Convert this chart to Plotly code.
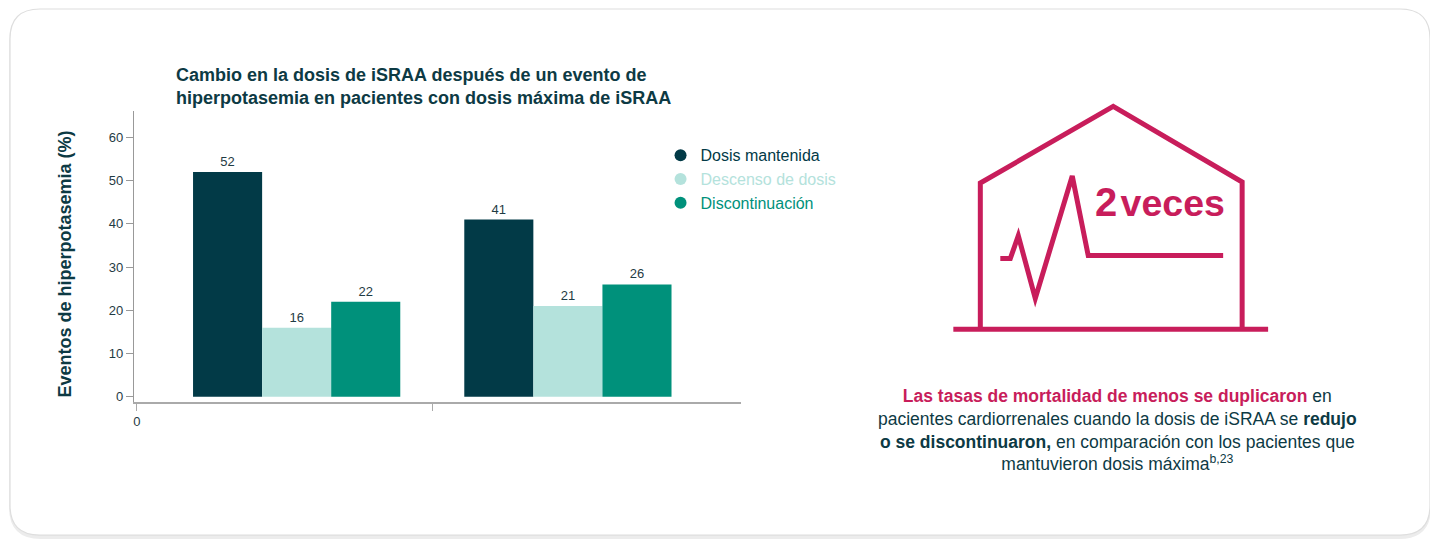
import plotly.graph_objects as go

# datos del grafico
grupos = [0, 1]
series = ["Dosis mantenida", "Descenso de dosis", "Discontinuación"]
dosis_mantenida = [52, 41]
descenso_dosis = [16, 21]
discontinuacion = [22, 26]
y_ticks = [0, 10, 20, 30, 40, 50, 60]

colores = ["#023a47", "#b4e2dc", "#00917b"]
crimson = "#c81d5b"
texto = "#0d3a44"
fuente = "Liberation Sans, Arial, sans-serif"

# la pagina deja 8px de margen, asi que el papel empieza en (8, 8)
W, H = 1430, 541


def px(x):
    return (x - 8) / W


def py(y):
    return 1 - (y - 8) / H


def ruta(puntos):
    return "M " + " L ".join(f"{px(x)},{py(y)}" for x, y in puntos)


def rect_redondo(x0, y0, x1, y1, r):
    return (f"M {px(x0 + r)},{py(y0)} L {px(x1 - r)},{py(y0)} "
            f"Q {px(x1)},{py(y0)} {px(x1)},{py(y0 + r)} L {px(x1)},{py(y1 - r)} "
            f"Q {px(x1)},{py(y1)} {px(x1 - r)},{py(y1)} L {px(x0 + r)},{py(y1)} "
            f"Q {px(x0)},{py(y1)} {px(x0)},{py(y1 - r)} L {px(x0)},{py(y0 + r)} "
            f"Q {px(x0)},{py(y0)} {px(x0 + r)},{py(y0)} Z")


fig = go.Figure()

valores = [dosis_mantenida, descenso_dosis, discontinuacion]
for nombre, vals, color in zip(series, valores, colores):
    fig.add_trace(go.Bar(
        x=grupos, y=vals, name=nombre, marker_color=color,
        marker_line_width=0, text=vals, textposition="outside",
        textfont=dict(size=13, color="#1f3b44"), cliponaxis=False,
        showlegend=False, hoverinfo="skip"
    ))
    # marcador circular para la leyenda
    fig.add_trace(go.Scatter(
        x=[None], y=[None], mode="markers", marker=dict(size=13, color=color),
        name=f"<span style='color:{color}'>{nombre}</span>"
    ))

casa = [(980, 331), (980, 184), (1113, 107), (1242, 183), (1242, 331)]
suelo = [(953, 331), (1268, 331)]
pulso = [(1000, 260), (1010, 260), (1018, 237), (1035, 300), (1072, 177),
         (1088, 257), (1223, 257)]

shapes = [
    # sombra y tarjeta
    dict(type="path", xref="paper", yref="paper", path=rect_redondo(10, 12, 1429, 540, 30),
         line=dict(color="#ececec", width=4), fillcolor="#f4f4f4", layer="below"),
    dict(type="path", xref="paper", yref="paper", path=rect_redondo(9, 9, 1430, 538, 30),
         line=dict(color="#dedede", width=1.2), fillcolor="white", layer="below"),
]
for pts in (casa, suelo, pulso):
    shapes.append(dict(type="path", xref="paper", yref="paper", path=ruta(pts),
                       line=dict(color=crimson, width=5)))

parrafo = (f"<b><span style='color:{crimson}'>Las tasas de mortalidad de menos se duplicaron</span></b> en<br>"
           "pacientes cardiorrenales cuando la dosis de iSRAA se <b>redujo</b><br>"
           "<b>o se discontinuaron,</b> en comparación con los pacientes que<br>"
           "mantuvieron dosis máxima<sup>b,23</sup>")

annotations = [
    dict(text="<b>Eventos de hiperpotasemia (%)</b>", textangle=-90,
         x=px(64), y=py(265), xref="paper", yref="paper",
         xanchor="center", yanchor="middle", showarrow=False,
         font=dict(size=18, color=texto, family=fuente)),
    dict(text="<b><span style='font-size:40px'>2</span>"
              "<span style='font-size:12px'> </span>veces</b>",
         x=px(1093), y=py(203),
         xref="paper", yref="paper", xanchor="left", yanchor="middle", showarrow=False,
         font=dict(size=37.5, color=crimson, family=fuente)),
    dict(text=parrafo, x=px(1117), y=py(386), xref="paper", yref="paper",
         xanchor="center", yanchor="top", align="center", showarrow=False,
         font=dict(size=17.5, color=texto, family=fuente)),
]

fig.update_layout(
    width=W, height=H,
    margin=dict(l=0, r=0, t=0, b=0),
    paper_bgcolor="white", plot_bgcolor="rgba(0,0,0,0)",
    font=dict(family=fuente, color=texto),
    title=dict(text="<b>Cambio en la dosis de iSRAA después de un evento de<br>"
                    "hiperpotasemia en pacientes con dosis máxima de iSRAA</b>",
               x=px(176), xanchor="left", y=py(81), yanchor="top",
               font=dict(size=18, color=texto, family=fuente)),
    barmode="group", bargap=0.236, bargroupgap=0,
    xaxis=dict(domain=[px(133), px(741)], range=[-0.6, 1.64],
               tickvals=[-0.589, 0.5], ticktext=["0", ""], ticks="outside",
               ticklen=7, tickcolor="#aaaaaa", showline=True, linecolor="#aaaaaa",
               linewidth=2, showgrid=False, zeroline=False,
               tickfont=dict(size=13, color="#1f3b44")),
    yaxis=dict(domain=[py(404), py(112)], range=[-1.15, 66], tickvals=y_ticks,
               ticks="outside", ticklen=7, tickcolor="#999999", showline=True,
               linecolor="#999999", linewidth=1, showgrid=False, zeroline=False,
               tickfont=dict(size=13, color="#1f3b44")),
    legend=dict(x=px(660), y=py(139), xanchor="left", yanchor="top",
                font=dict(size=16), bgcolor="rgba(0,0,0,0)", itemsizing="constant"),
    shapes=shapes, annotations=annotations,
)

fig.write_html("out.html")
